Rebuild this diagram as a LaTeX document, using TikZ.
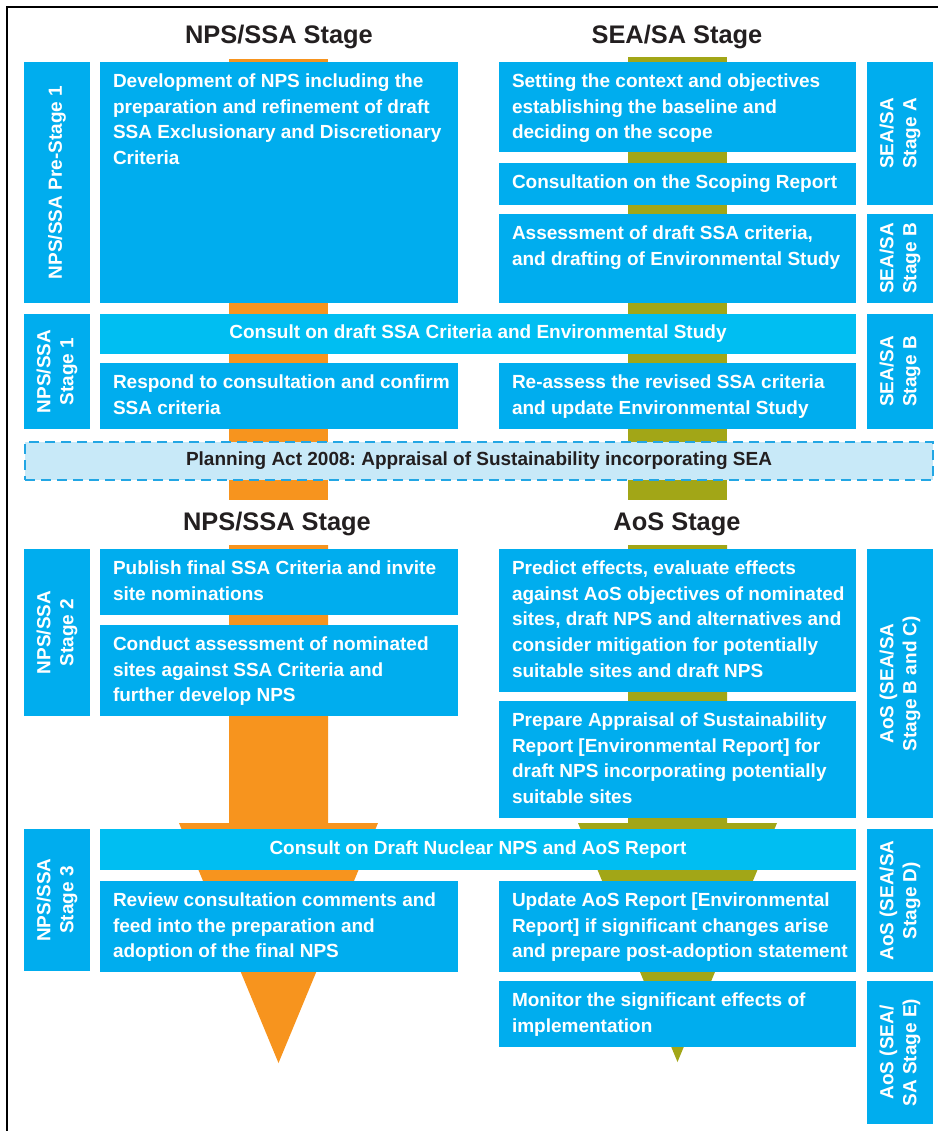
\documentclass[tikz,border=0pt]{standalone}
\usepackage{fontspec}
\setmainfont{Liberation Sans}
\usepackage{tikz}
\usetikzlibrary{positioning, fit, shapes}
\definecolor{boxblue}{HTML}{00ADEE}
\definecolor{consultblue}{HTML}{00BEF2}
\definecolor{npsorange}{HTML}{F7941E}
\definecolor{seaolive}{HTML}{A2A617}
\definecolor{actfill}{HTML}{C8E9F8}
\definecolor{actline}{HTML}{22A6E4}
\definecolor{darktext}{HTML}{231F20}
\newcommand{\boxfont}{\fontsize{9.5}{12.8}\selectfont\bfseries}
\newcommand{\sidefont}{\fontsize{9.5}{11.5}\selectfont\bfseries}
\newcommand{\titlefont}{\fontsize{12.7}{15}\selectfont\bfseries}
\tikzstyle{block} = [fill=boxblue, inner sep=0pt]
\tikzstyle{consult} = [fill=consultblue, inner sep=0pt]
\tikzstyle{centertext} = [text=white, font=\boxfont, inner sep=0pt]
\tikzstyle{blocktext} = [anchor=north west, align=left, text=white,
    font=\boxfont, inner xsep=6.5pt, inner ysep=6pt]
\tikzstyle{sidetext} = [rotate=90, align=center, text=white,
    font=\sidefont, inner sep=0pt]
\tikzstyle{heading} = [anchor=base, font=\titlefont, text=darktext]

\begin{document}
\frenchspacing
\begin{tikzpicture}[x=0.5pt, y=-0.5pt]

        \useasboundingbox (0,0) rectangle (938,1131);
        \draw[line width=1pt] (7,1131) -- (7,7) -- (938,7);

        \fill[npsorange] (229,59) rectangle (328,500);
        \fill[npsorange] (229,545) -- (328,545) -- (328,823) -- (378,823)
            -- (278.5,1063) -- (179,823) -- (229,823) -- cycle;
        \fill[seaolive] (628,57) rectangle (727,500);
        \fill[seaolive] (628,545) -- (727,545) -- (727,823) -- (777,823)
            -- (677.5,1062) -- (578,823) -- (628,823) -- cycle;

        \node[heading] (npstitle) at (279,43) {NPS/SSA Stage};
        \node[heading] (seatitle) at (677,43) {SEA/SA Stage};
        \node[heading] (npstitleb) at (277,530) {NPS/SSA Stage};
        \node[heading] (aostitle) at (677,530) {AoS Stage};

        \node[block, fit={(24,62) (90,303)}](pre1){};
        \node[block, fit={(24,314) (90,429)}](st1){};
        \node[block, fit={(24,549) (90,716)}](st2){};
        \node[block, fit={(24,829) (90,971)}](st3){};
        \node[sidetext] (pre1text) at (pre1.center) {NPS/SSA Pre-Stage 1};
        \node[sidetext] (st1text) at (st1.center) {NPS/SSA\\Stage 1};
        \node[sidetext] (st2text) at (st2.center) {NPS/SSA\\Stage 2};
        \node[sidetext] (st3text) at (st3.center) {NPS/SSA\\Stage 3};

        \node[block, fit={(867,62) (933,205)}](sa){};
        \node[block, fit={(867,214) (933,303)}](sb){};
        \node[block, fit={(867,314) (933,429)}](sbb){};
        \node[block, fit={(867,549) (933,818)}](sbc){};
        \node[block, fit={(867,829) (933,972)}](sd){};
        \node[block, fit={(867,981) (933,1124)}](se){};
        \node[sidetext] (satext) at (sa.center) {SEA/SA\\Stage A};
        \node[sidetext] (sbtext) at (sb.center) {SEA/SA\\Stage B};
        \node[sidetext] (sbbtext) at (sbb.center) {SEA/SA\\Stage B};
        \node[sidetext] (sbctext) at (sbc.center) {AoS (SEA/SA\\Stage B and C)};
        \node[sidetext] (sdtext) at (sd.center) {AoS (SEA/SA\\Stage D)};
        \node[sidetext] (setext) at (se.center) {AoS (SEA/\\SA Stage E)};

        \node[block, fit={(100,62) (458,303)}](dev){};
        \node[block, fit={(100,363) (458,429)}](respond){};
        \node[block, fit={(100,549) (458,615)}](publish){};
        \node[block, fit={(100,625) (458,716)}](conduct){};
        \node[block, fit={(100,881) (458,972)}](review){};
        \node[blocktext] (devtext) at (dev.north west) {Development of NPS including the\\preparation and refinement of draft\\SSA Exclusionary and Discretionary\\Criteria};
        \node[blocktext] (respondtext) at (respond.north west) {Respond to consultation and confirm\\SSA criteria};
        \node[blocktext] (publishtext) at (publish.north west) {Publish final SSA Criteria and invite\\site nominations};
        \node[blocktext] (conducttext) at (conduct.north west) {Conduct assessment of nominated\\sites against SSA Criteria and\\further develop NPS};
        \node[blocktext] (reviewtext) at (review.north west) {Review consultation comments and\\feed into the preparation and\\adoption of the final NPS};

        \node[block, fit={(499,62) (856,152)}](setting){};
        \node[block, fit={(499,163) (856,205)}](scoping){};
        \node[block, fit={(499,214) (856,303)}](assess){};
        \node[block, fit={(499,363) (856,429)}](reassess){};
        \node[block, fit={(499,549) (856,692)}](predict){};
        \node[block, fit={(499,701) (856,818)}](prepare){};
        \node[block, fit={(499,881) (856,972)}](update){};
        \node[block, fit={(499,981) (856,1047)}](monitor){};
        \node[blocktext] (settingtext) at (setting.north west) {Setting the context and objectives\\establishing the baseline and\\deciding on the scope};
        \node[blocktext] (scopingtext) at (scoping.north west) {Consultation on the Scoping Report};
        \node[blocktext] (assesstext) at (assess.north west) {Assessment of draft SSA criteria,\\and drafting of Environmental Study};
        \node[blocktext] (reassesstext) at (reassess.north west) {Re-assess the revised SSA criteria\\and update Environmental Study};
        \node[blocktext] (predicttext) at (predict.north west) {Predict effects, evaluate effects\\against AoS objectives of nominated\\sites, draft NPS and alternatives and\\consider mitigation for potentially\\suitable sites and draft NPS};
        \node[blocktext] (preparetext) at (prepare.north west) {Prepare Appraisal of Sustainability\\Report [Environmental Report] for\\draft NPS incorporating potentially\\suitable sites};
        \node[blocktext] (updatetext) at (update.north west) {Update AoS Report [Environmental\\Report] if significant changes arise\\and prepare post-adoption statement};
        \node[blocktext] (monitortext) at (monitor.north west) {Monitor the significant effects of\\implementation};

        \node[consult, fit={(100,314) (856,354)}](consultssa){};
        \node[consult, fit={(100,829) (856,870)}](consultnps){};
        \node[centertext] (consultssatext) at (consultssa.center) {Consult on draft SSA Criteria and Environmental Study};
        \node[centertext] (consultnpstext) at (consultnps.center) {Consult on Draft Nuclear NPS and AoS Report};

        \node[
            fit={(25,442) (933,480)},
            fill=actfill,
            draw=actline,
            line width=0.75pt,
            dash pattern=on 5pt off 3pt,
            inner sep=0pt
        ](act){};
        \node[centertext, text=darktext] (acttext) at (act.center) {Planning Act 2008: Appraisal of Sustainability incorporating SEA};

    \end{tikzpicture}
\end{document}
